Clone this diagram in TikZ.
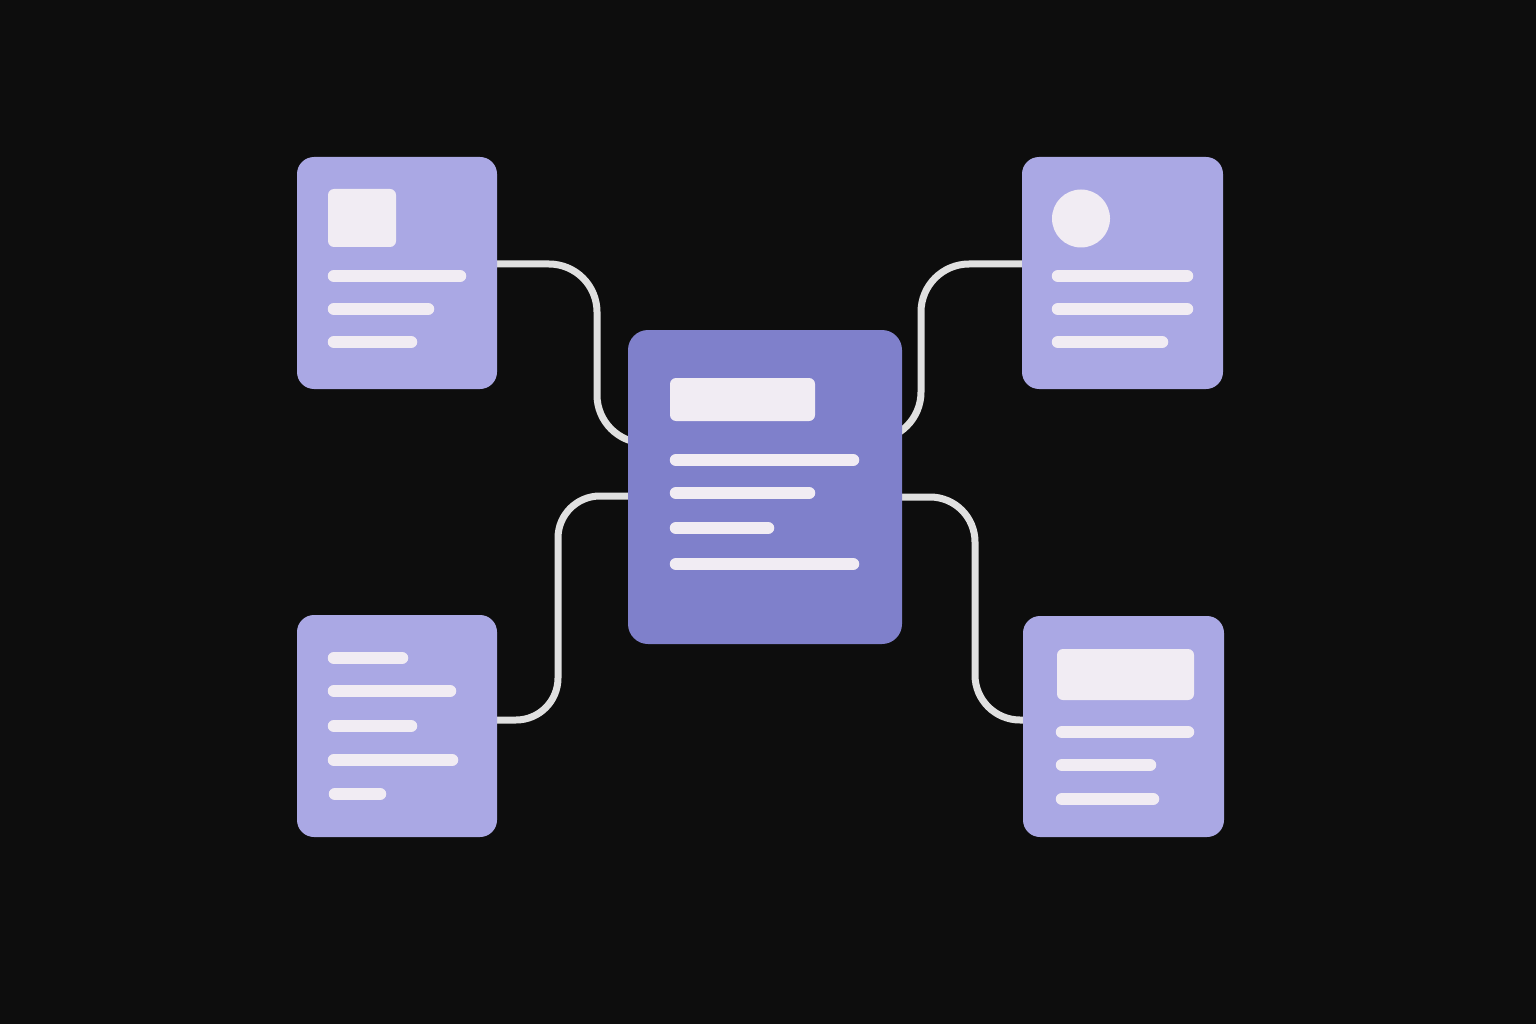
\documentclass[tikz,border=0pt]{standalone}
\usepackage{xcolor}
\usetikzlibrary{backgrounds}
\definecolor{bgc}{HTML}{0D0D0D}
\definecolor{cardc}{HTML}{AAA8E4}
\definecolor{mainc}{HTML}{7F80CB}
\definecolor{barc}{HTML}{F1ECF3}
\definecolor{linkc}{HTML}{E0E0E0}

\begin{document}
\begin{tikzpicture}[x=1pt,y=-1pt,
    card/.style={rectangle, fill=cardc, rounded corners=17pt, inner sep=0pt},
    bar/.style={draw=barc, line width=12.5pt, line cap=round},
    link/.style={draw=linkc, line width=7pt}]
  \useasboundingbox (0,0) rectangle (1536,1024);
  \node[card, minimum width=200pt, minimum height=232pt] (tl) at (397,273) {};
  \node[card, minimum width=201pt, minimum height=232pt] (tr) at (1122.5,273) {};
  \node[card, minimum width=200pt, minimum height=222pt] (bl) at (397,726) {};
  \node[card, minimum width=201pt, minimum height=221pt] (br) at (1123.5,726.5) {};
  \node[card, fill=mainc, rounded corners=20pt, minimum width=274pt, minimum height=314pt] (ctr) at (765,487) {};
  \begin{pgfonlayer}{background}
    \fill[bgc] (0,0) rectangle (1536,1024);
    \path[link, rounded corners=48pt] (tl.center |- 0,264) -- (597,264) -- (597,443) [rounded corners=34pt] -- (ctr.center |- 0,443);
    \path[link, rounded corners=48pt] (tr.center |- 0,264) -- (921,264) -- (921,440) [rounded corners=32pt] -- (ctr.center |- 0,440);
    \path[link, rounded corners=42pt] (ctr.center |- 0,496) -- (558,496) -- (558,720) [rounded corners=46pt] -- (bl.center |- 0,720);
    \path[link, rounded corners=45pt] (ctr.center |- 0,497) -- (975,497) -- (975,720) [rounded corners=44pt] -- (br.center |- 0,720);
  \end{pgfonlayer}
  % top left card
  \fill[barc, rounded corners=6pt] (328,189) rectangle (396,247);
  \path[bar] (334,276) -- (460,276);
  \path[bar] (334,309) -- (428,309);
  \path[bar] (334,342) -- (411,342);
  % top right card
  \fill[barc] (1081,218.5) circle (29pt);
  \path[bar] (1058,276) -- (1187,276);
  \path[bar] (1058,309) -- (1187,309);
  \path[bar] (1058,342) -- (1162,342);
  % centre card
  \fill[barc, rounded corners=6pt] (670,378) rectangle (815,421);
  \path[bar] (676,460) -- (853,460);
  \path[bar] (676,493) -- (809,493);
  \path[bar] (676,528) -- (768,528);
  \path[bar] (676,564) -- (853,564);
  % bottom left card
  \path[bar] (334,658) -- (402,658);
  \path[bar] (334,691) -- (450,691);
  \path[bar] (334,726) -- (411,726);
  \path[bar] (334,760) -- (452,760);
  \path[bar] (335,794) -- (380,794);
  % bottom right card
  \fill[barc, rounded corners=6pt] (1057,649) rectangle (1194,700);
  \path[bar] (1062,732) -- (1188,732);
  \path[bar] (1062,765) -- (1150,765);
  \path[bar] (1062,799) -- (1153,799);
\end{tikzpicture}
\end{document}
